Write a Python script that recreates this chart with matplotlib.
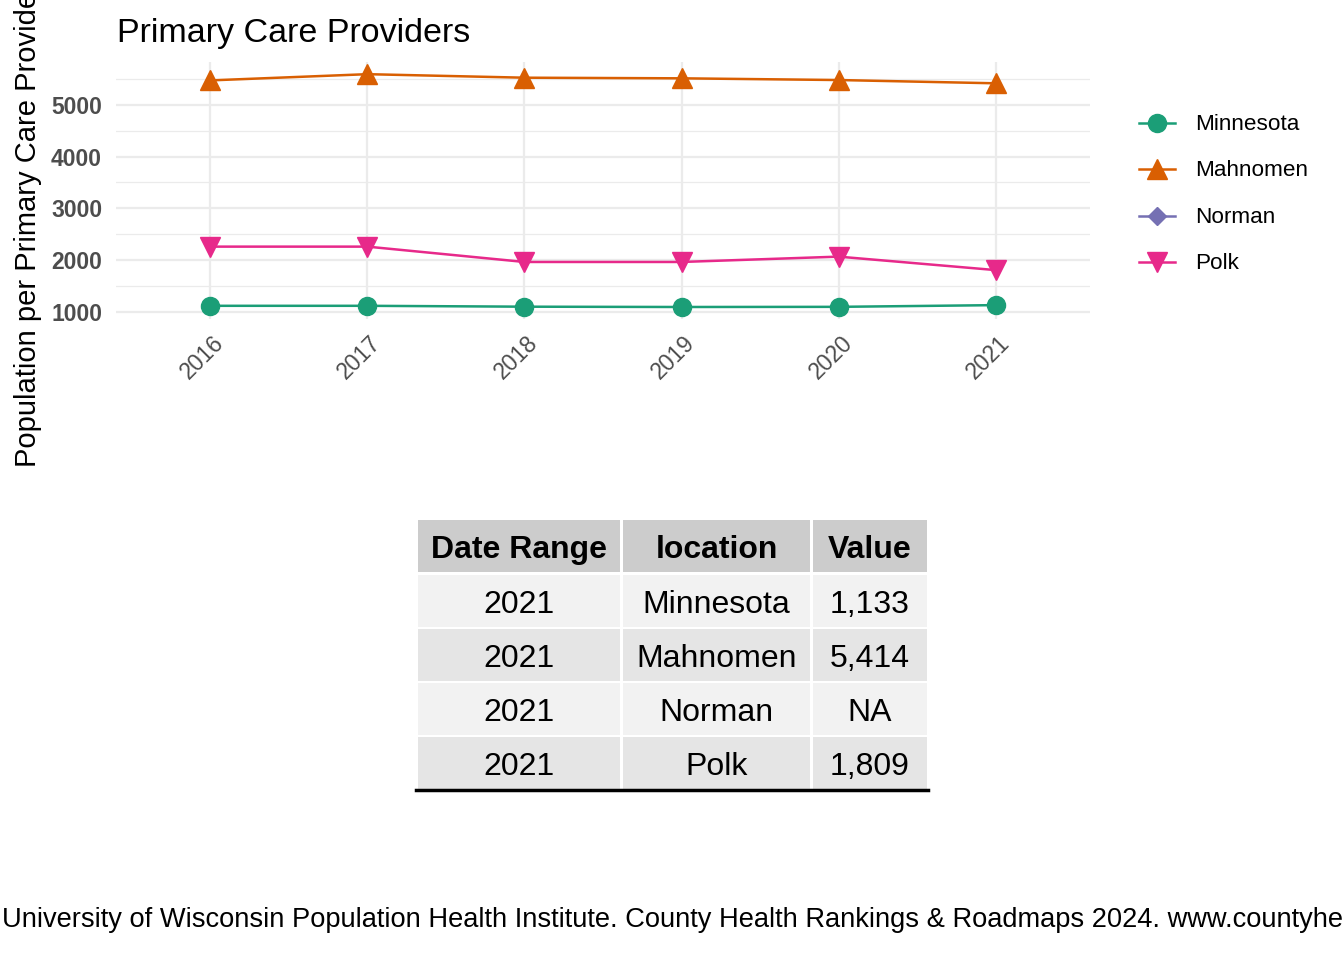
import numpy as np
import matplotlib
matplotlib.use("Agg")
import matplotlib.pyplot as plt
from matplotlib.patches import Rectangle
from matplotlib.lines import Line2D
import matplotlib.transforms as mtransforms

plt.rcParams['font.family'] = ['Liberation Sans', 'DejaVu Sans']

# ---------------- data ----------------
years = ['2016', '2017', '2018', '2019', '2020', '2021']
series_names = ['Minnesota', 'Mahnomen', 'Norman', 'Polk']
minnesota = [1120, 1120, 1103, 1097, 1100, 1133]
mahnomen = [5470, 5590, 5522, 5510, 5477, 5414]
norman = [np.nan, np.nan, np.nan, np.nan, np.nan, np.nan]
polk = [2262, 2262, 1966, 1966, 2069, 1809]
y_ticks = [1000, 2000, 3000, 4000, 5000]
y_minor = [1500, 2500, 3500, 4500, 5500]

colors = ['#1B9E77', '#D95F02', '#7570B3', '#E7298A']
markers = ['o', '^', 'D', 'v']
msizes = [13, 15, 9, 15]

table_header = ['Date Range', 'location', 'Value']
table_dates = ['2021', '2021', '2021', '2021']
table_locations = ['Minnesota', 'Mahnomen', 'Norman', 'Polk']
table_values = [1133, 5414, None, 1809]

title = 'Primary Care Providers'
ylabel = 'Population per Primary Care Providers'
caption = ('University of Wisconsin Population Health Institute. County Health Rankings & '
           'Roadmaps 2024. www.countyhealthrankings.org')

# ---------------- figure ----------------
W, H = 1344, 960
fig = plt.figure(figsize=(W / 100, H / 100), dpi=100)

def fx(px):
    return px / W

def fy(py):
    return 1 - py / H

left, right, top, bottom = 116, 1090, 62, 318.5
ax = fig.add_axes([fx(left), fy(bottom), fx(right - left), (bottom - top) / H])
for s in ax.spines.values():
    s.set_visible(False)

x = np.arange(len(years))
all_series = [minnesota, mahnomen, norman, polk]
for vals, c, m, ms in zip(all_series, colors, markers, msizes):
    ax.plot(x, vals, color=c, lw=1.8, marker=m, markersize=ms, zorder=3)

ax.set_xlim(-0.6, len(years) - 1 + 0.6)
ax.set_ylim(875, 5825)
ax.set_yticks(y_ticks)
ax.set_yticks(y_minor, minor=True)
ax.set_xticks(x)
ax.set_xticklabels(years)
ax.grid(True, which='major', color='#EBEBEB', lw=1.6, zorder=0)
ax.grid(True, which='minor', axis='y', color='#EBEBEB', lw=0.9, zorder=0)
ax.set_axisbelow(True)
ax.tick_params(axis='both', which='both', length=0)
ax.tick_params(axis='y', pad=10, labelsize=16.5, labelcolor='#4D4D4D')
ax.tick_params(axis='x', pad=0, labelsize=16.5, labelcolor='#4D4D4D')
for lab in ax.get_yticklabels():
    lab.set_fontweight('bold')
offset = mtransforms.ScaledTranslation(2 / 100, -13 / 100, fig.dpi_scale_trans)
for lab in ax.get_xticklabels():
    lab.set_rotation(45)
    lab.set_ha('right')
    lab.set_va('top')
    lab.set_rotation_mode('anchor')
    lab.set_transform(lab.get_transform() + offset)

# title & y label
fig.text(fx(117), fy(42), title, fontsize=24.5, ha='left', va='baseline', color='black')
fig.text(fx(28), fy(467), ylabel, fontsize=21, rotation=90, ha='center', va='bottom',
         color='black')

# ---------------- overlay axes (legend, table, caption) ----------------
ov = fig.add_axes([0, 0, 1, 1], zorder=-1)
ov.set_xlim(0, W)
ov.set_ylim(H, 0)
ov.axis('off')

# legend
leg_y0, leg_dy = 123, 46.3
for i, (name, c, m, ms) in enumerate(zip(series_names, colors, markers, msizes)):
    yy = leg_y0 + i * leg_dy
    ov.add_line(Line2D([1139, 1175], [yy, yy], color=c, lw=1.8))
    ov.plot([1157], [yy], marker=m, color=c, markersize=ms)
    ov.text(1195, yy + 1.5, name, fontsize=16.2, ha='left', va='center', color='black')

# table
col_edges = [(418, 620), (623, 810), (813, 927)]
row_edges = [(520, 572), (575, 627), (629, 681), (683, 735), (737, 789)]
fills = ['#CCCCCC', '#F2F2F2', '#E5E5E5', '#F2F2F2', '#E5E5E5']
rows = [table_header]
for d, l, v in zip(table_dates, table_locations, table_values):
    rows.append([d, l, 'NA' if v is None else f'{v:,}'])
for r, ((y0, y1), fill, row) in enumerate(zip(row_edges, fills, rows)):
    for (x0, x1), txt in zip(col_edges, row):
        ov.add_patch(Rectangle((x0, y0), x1 - x0, y1 - y0, facecolor=fill, edgecolor='none'))
        ov.text((x0 + x1) / 2, (y0 + y1) / 2 + 4, txt, fontsize=23, ha='center', va='center',
                fontweight='bold' if r == 0 else 'normal', color='black')
ov.add_line(Line2D([416, 928], [790, 790], color='black', lw=2.5))

# caption
fig.text(fx(2), fy(927), caption, fontsize=19.6, ha='left', va='baseline', color='black')

fig.savefig('out.png', dpi=100)
